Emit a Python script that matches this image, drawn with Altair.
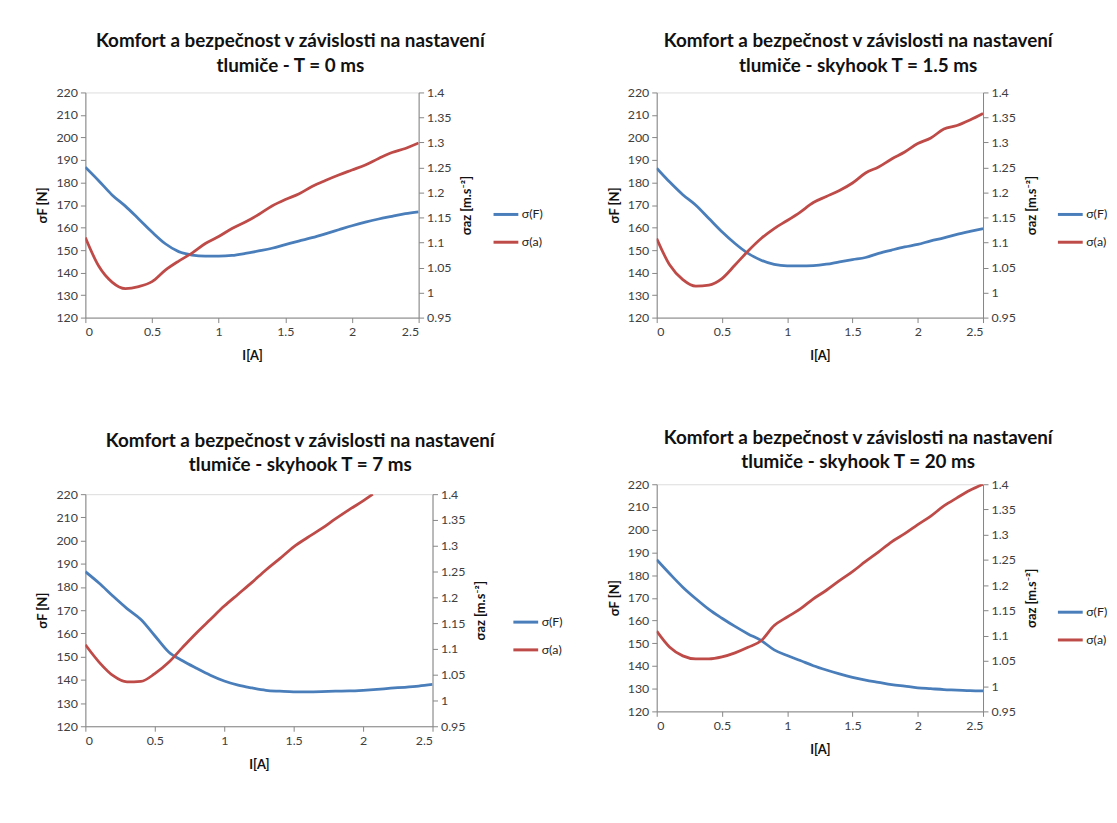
import altair as alt
import pandas as pd

# ---------------- data ----------------
I_GRID = [0.0, 0.1, 0.2, 0.3, 0.4, 0.5, 0.6, 0.7, 0.8, 0.9, 1.0, 1.1, 1.2,
          1.3, 1.4, 1.5, 1.6, 1.7, 1.8, 1.9, 2.0, 2.1, 2.2, 2.3, 2.4, 2.5]

# T = 0 ms
F_T0 = [186.8, 180.8, 174.5, 169.5, 163.8, 158.0, 152.8, 149.3, 147.8, 147.3,
        147.3, 147.6, 148.5, 149.6, 150.8, 152.4, 154.0, 155.5, 157.2, 159.0,
        160.8, 162.4, 163.8, 165.0, 166.2, 167.0]
A_T0 = [1.110, 1.053, 1.021, 1.008, 1.012, 1.022, 1.045, 1.063, 1.079, 1.098,
        1.112, 1.128, 1.141, 1.156, 1.173, 1.186, 1.197, 1.212, 1.224, 1.235,
        1.245, 1.255, 1.268, 1.280, 1.288, 1.299]

# skyhook T = 1.5 ms
F_T15 = [186.4, 180.2, 174.6, 169.9, 164.0, 158.1, 152.9, 148.5, 145.5, 143.6,
         143.0, 143.0, 143.1, 143.7, 144.8, 145.8, 146.7, 148.5, 150.0, 151.4,
         152.5, 154.1, 155.4, 157.0, 158.3, 159.5]
A_T15 = [1.108, 1.055, 1.026, 1.013, 1.015, 1.028, 1.055, 1.083, 1.108, 1.128,
         1.144, 1.161, 1.180, 1.192, 1.204, 1.219, 1.239, 1.251, 1.267, 1.281,
         1.298, 1.309, 1.327, 1.334, 1.345, 1.358]

# skyhook T = 7 ms
F_T7 = [186.6, 181.6, 176.0, 170.7, 166.0, 159.0, 152.0, 148.2, 145.0, 142.0,
        139.5, 137.7, 136.5, 135.5, 135.1, 134.8, 134.8, 134.9, 135.1, 135.2,
        135.5, 135.9, 136.4, 136.8, 137.3, 138.0]
I_A_T7 = [0.0, 0.1, 0.2, 0.3, 0.4, 0.5, 0.6, 0.7, 0.8, 0.9, 1.0, 1.1, 1.2,
          1.3, 1.4, 1.5, 1.6, 1.7, 1.8, 1.9, 2.0, 2.07]
A_T7 = [1.108, 1.074, 1.048, 1.036, 1.037, 1.052, 1.074, 1.103, 1.131, 1.157,
        1.183, 1.206, 1.229, 1.253, 1.275, 1.298, 1.316, 1.333, 1.352, 1.370,
        1.387, 1.400]

# skyhook T = 20 ms
F_T20 = [186.8, 180.6, 174.7, 169.6, 164.9, 161.0, 157.4, 154.1, 151.2, 147.1,
         144.6, 142.4, 140.1, 138.2, 136.5, 135.0, 133.8, 132.8, 131.8, 131.1,
         130.4, 130.0, 129.6, 129.4, 129.1, 129.0]
A_T20 = [1.109, 1.077, 1.060, 1.054, 1.054, 1.058, 1.066, 1.077, 1.090, 1.120,
         1.137, 1.153, 1.173, 1.190, 1.209, 1.227, 1.247, 1.266, 1.286, 1.302,
         1.320, 1.337, 1.357, 1.373, 1.388, 1.400]

TITLE_L1 = "Komfort a bezpečnost v závislosti na nastavení"
TITLES = ["tlumiče - T = 0 ms", "tlumiče - skyhook T = 1.5 ms",
          "tlumiče - skyhook T = 7 ms", "tlumiče - skyhook T = 20 ms"]
SERIES = ["σ(F)", "σ(a)"]
X_TICKS = [0, 0.5, 1, 1.5, 2, 2.5]
YL_TICKS = [120, 130, 140, 150, 160, 170, 180, 190, 200, 210, 220]
YR_TICKS = [0.95, 1.0, 1.05, 1.1, 1.15, 1.2, 1.25, 1.3, 1.35, 1.4]

BLUE = "#4A7EBB"
RED = "#BE4B48"
FONT = "Lato"
AX = dict(grid=False, domainColor="#868686", tickColor="#868686", tickSize=5,
          labelFont=FONT, labelFontSize=12.5, labelColor="#404040", labelPadding=3,
          titleFont=FONT, titleFontSize=13, titleFontWeight="bold",
          titleColor="#111111")


def panel(title2, i_f, f_vals, i_a, a_vals, w, h, toff, leg_x, leg_y):
    df_f = pd.DataFrame({"I": i_f, "v": f_vals, "s": SERIES[0]})
    df_a = pd.DataFrame({"I": i_a, "v": a_vals, "s": SERIES[1]})
    color = alt.Color(
        "s:N",
        scale=alt.Scale(domain=SERIES, range=[BLUE, RED]),
        legend=alt.Legend(title=None, orient="none", legendX=leg_x, legendY=leg_y,
                          symbolType="stroke", symbolSize=625, symbolStrokeWidth=3,
                          labelFontSize=12.5, labelFont=FONT, labelColor="#222222",
                          rowPadding=7, labelOffset=2, padding=0),
    )
    x = alt.X("I:Q", scale=alt.Scale(domain=[0, 2.5], nice=False, zero=False),
              axis=alt.Axis(values=X_TICKS, format="~g", title="I[A]",
                            titlePadding=12, **AX))
    left = alt.Chart(df_f).mark_line(strokeWidth=2.8, interpolate="monotone", clip=True).encode(
        x=x,
        y=alt.Y("v:Q", scale=alt.Scale(domain=[120, 220], nice=False, zero=False),
                axis=alt.Axis(values=YL_TICKS, title="σF [N]", orient="left",
                              titlePadding=6, **AX)),
        color=color,
    )
    right = alt.Chart(df_a).mark_line(strokeWidth=2.8, interpolate="monotone", clip=True).encode(
        x=x,
        y=alt.Y("v:Q", scale=alt.Scale(domain=[0.95, 1.4], nice=False, zero=False),
                axis=alt.Axis(values=YR_TICKS, format="~g", title="σaz [m.s⁻²]",
                              orient="right", titleAngle=270, titlePadding=23, **AX)),
        color=color,
    )
    return alt.layer(
        left, right,
        title=alt.TitleParams(text=[TITLE_L1, title2], frame="bounds", anchor="middle",
                              offset=toff, font=FONT, fontSize=19, fontWeight="bold",
                              color="#111111", lineHeight=25),
    ).resolve_scale(y="independent").properties(width=w, height=h)


p1 = panel(TITLES[0], I_GRID, F_T0, I_GRID, A_T0, 336, 227, 11, 410, 109)
p2 = panel(TITLES[1], I_GRID, F_T15, I_GRID, A_T15, 329, 227, 11, 403, 109)
p3 = panel(TITLES[2], I_GRID, F_T7, I_A_T7, A_T7, 350, 234, 13, 430, 115)
p4 = panel(TITLES[3], I_GRID, F_T20, I_GRID, A_T20, 329, 229, 6, 403, 115)

left_col = alt.vconcat(p1, p3, spacing=68).resolve_scale(color="independent")
right_col = alt.vconcat(p2, p4, spacing=65).resolve_scale(color="independent")

chart = alt.hconcat(left_col, right_col, spacing=43).resolve_scale(color="independent").properties(
    padding={"left": 28, "top": 20, "right": 0, "bottom": 0}
).configure_view(stroke=None).configure(background="white")

chart.save("out.html", embed_options={"renderer": "svg", "actions": False})
